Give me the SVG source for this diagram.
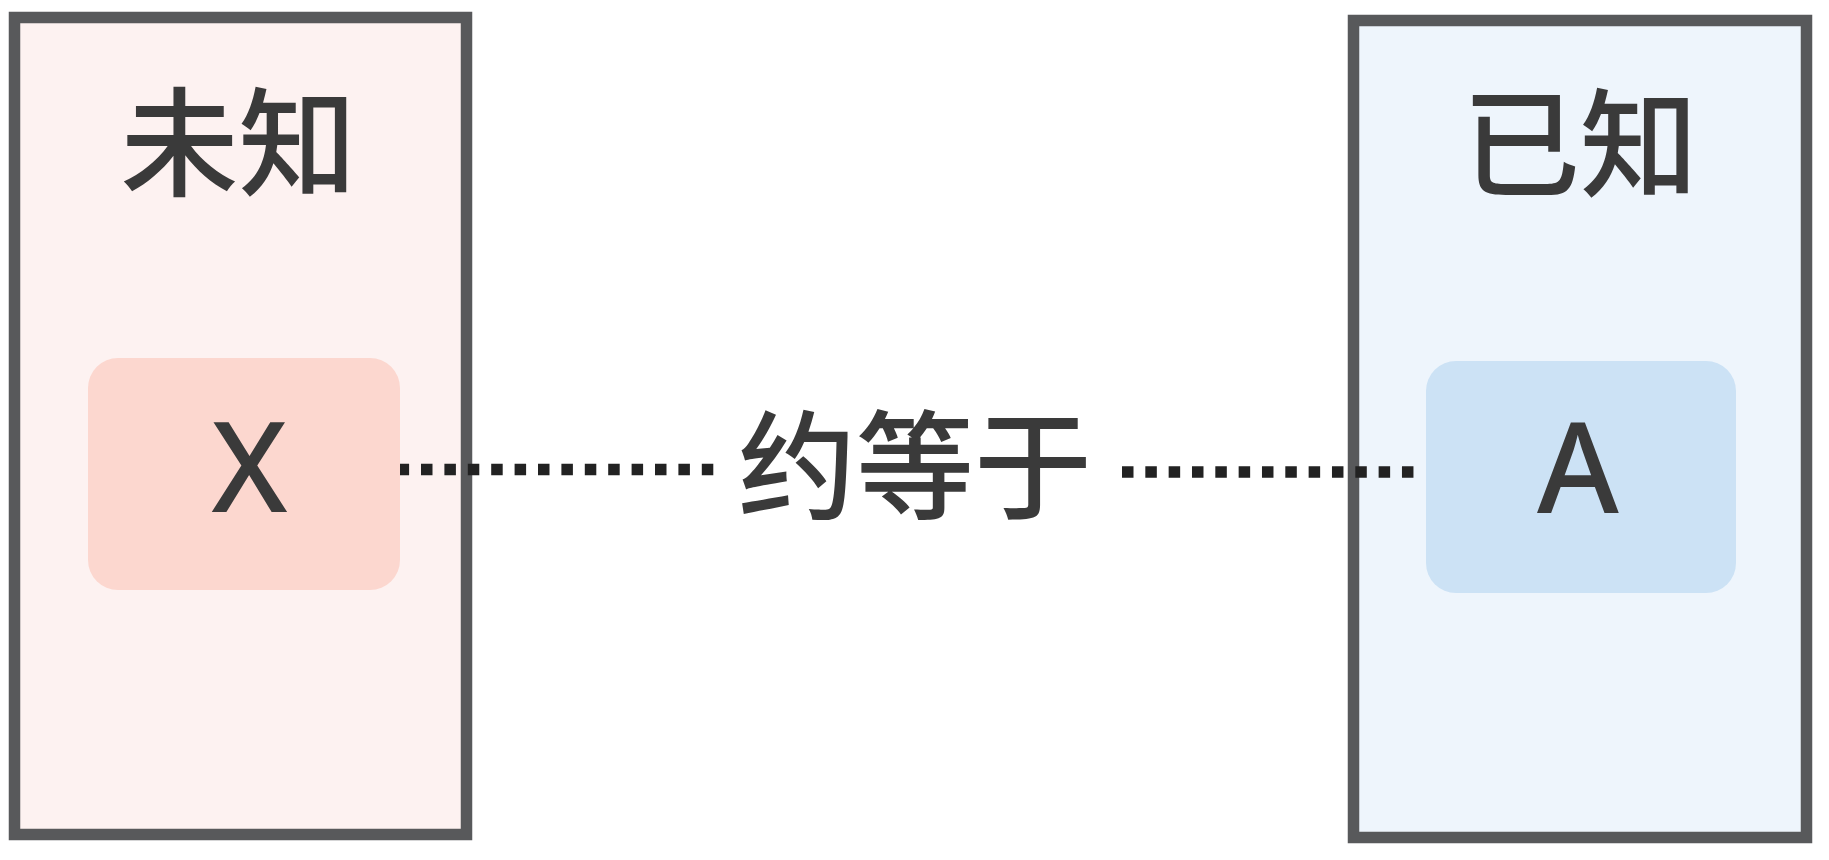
<svg xmlns="http://www.w3.org/2000/svg" width="1829" height="860" viewBox="0 0 1829 860">
  <style>
    .panel { stroke: #58595b; stroke-width: 11.5; }
    .cjk { font-family: "Noto Sans CJK SC", "Noto Sans", sans-serif; font-size: 118px; font-weight: 500; fill: #3a3a3a; text-anchor: middle; }
    .latin { font-family: "Noto Sans", "Liberation Sans", sans-serif; font-size: 125px; font-weight: 500; fill: #3a3a3a; text-anchor: middle; }
    .dots { stroke: #222222; stroke-width: 11.5; fill: none; }
  </style>
  <rect x="0" y="0" width="1829" height="860" fill="#ffffff"/>
  <g id="unknown-panel">
    <rect class="panel" x="14.5" y="17.5" width="452" height="817" fill="#fdf2f1"/>
    <text class="cjk" x="238.5" y="187">未知</text>
  </g>
  <g id="known-panel">
    <rect class="panel" x="1353.5" y="20.5" width="453" height="817" fill="#eef5fc"/>
    <text class="cjk" x="1580" y="188">已知</text>
  </g>
  <g id="connectors">
    <line class="dots" x1="397.6" y1="469.5" x2="714" y2="469.5" stroke-dasharray="11.5 11.9"/>
    <line class="dots" x1="1122" y1="472" x2="1414" y2="472" stroke-dasharray="11.5 11.83"/>
  </g>
  <g id="node-x">
    <rect x="88" y="358" width="312" height="232" rx="30" ry="30" fill="#fcd7cf"/>
    <text class="latin" x="249.5" y="512">X</text>
  </g>
  <g id="node-a">
    <rect x="1426" y="361" width="310" height="232" rx="30" ry="30" fill="#cce2f5"/>
    <text class="latin" x="1578" y="513">A</text>
  </g>
  <g id="label-approx">
    <text class="cjk" x="915" y="510">约等于</text>
  </g>
</svg>
